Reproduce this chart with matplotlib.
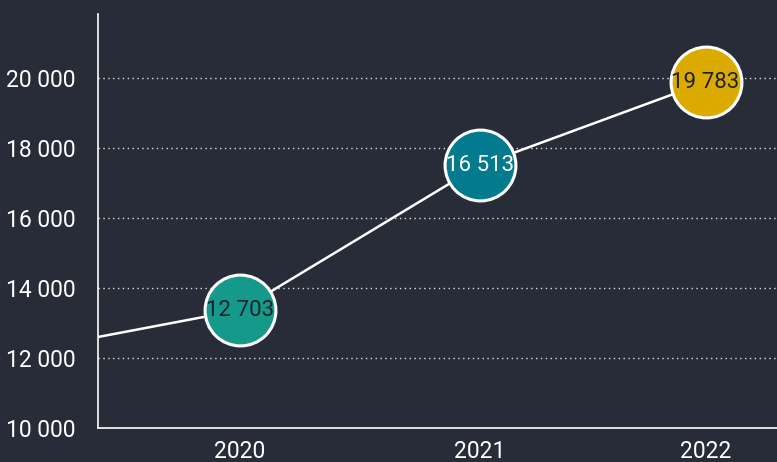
import matplotlib
matplotlib.use('Agg')
import matplotlib.pyplot as plt

# values
years = [2019.0, 2020.0, 2021.0, 2021.94]
plotted = [12070, 13370, 17510, 19880]
labels = ['', '12 703', '16 513', '19 783']
tick_years = ['2020', '2021', '2022']
yticks = [10000, 12000, 14000, 16000, 18000, 20000]
colors = [None, '#14998a', '#037a8e', '#dcab00']
text_colors = [None, '#1d212b', '#ffffff', '#1d212b']

bg = '#282c38'
plt.rcParams['font.family'] = ['Roboto', 'DejaVu Sans']

fig = plt.figure(figsize=(7.77, 4.62), dpi=100)
fig.patch.set_facecolor(bg)

ax = fig.add_axes([98 / 777, 34 / 462, 679 / 777, 414 / 462])
ax.set_facecolor('none')

ax.plot(years, plotted, color='white', lw=1.8, zorder=3, clip_on=True)
for i in range(1, len(years)):
    ax.plot(years[i], plotted[i], 'o', ms=51, mfc=colors[i], mec='white', mew=2.2, zorder=4)
    ax.text(years[i], plotted[i], labels[i], color=text_colors[i], fontsize=16,
            ha='center', va='center', zorder=5)

ax.set_xlim(2019.408, 2022.2375)
ax.set_ylim(10000, 21830)
ax.set_xticks(years[1:])
ax.set_xticklabels(tick_years)
ax.set_yticks(yticks)
ax.set_yticklabels([f'{v:,}'.replace(',', ' ') for v in yticks])

for v in yticks[1:]:
    ax.axhline(v, color='white', lw=1, ls=(0, (1, 2.5)), alpha=0.85, zorder=1)

for s in ['top', 'right']:
    ax.spines[s].set_visible(False)
for s in ['left', 'bottom']:
    ax.spines[s].set_color('white')
    ax.spines[s].set_linewidth(1.2)
ax.tick_params(length=0, colors='white', labelsize=16.5)
ax.tick_params(axis='y', pad=16)
ax.tick_params(axis='x', pad=9)

fig.savefig('out.png', dpi=100, facecolor=bg)
